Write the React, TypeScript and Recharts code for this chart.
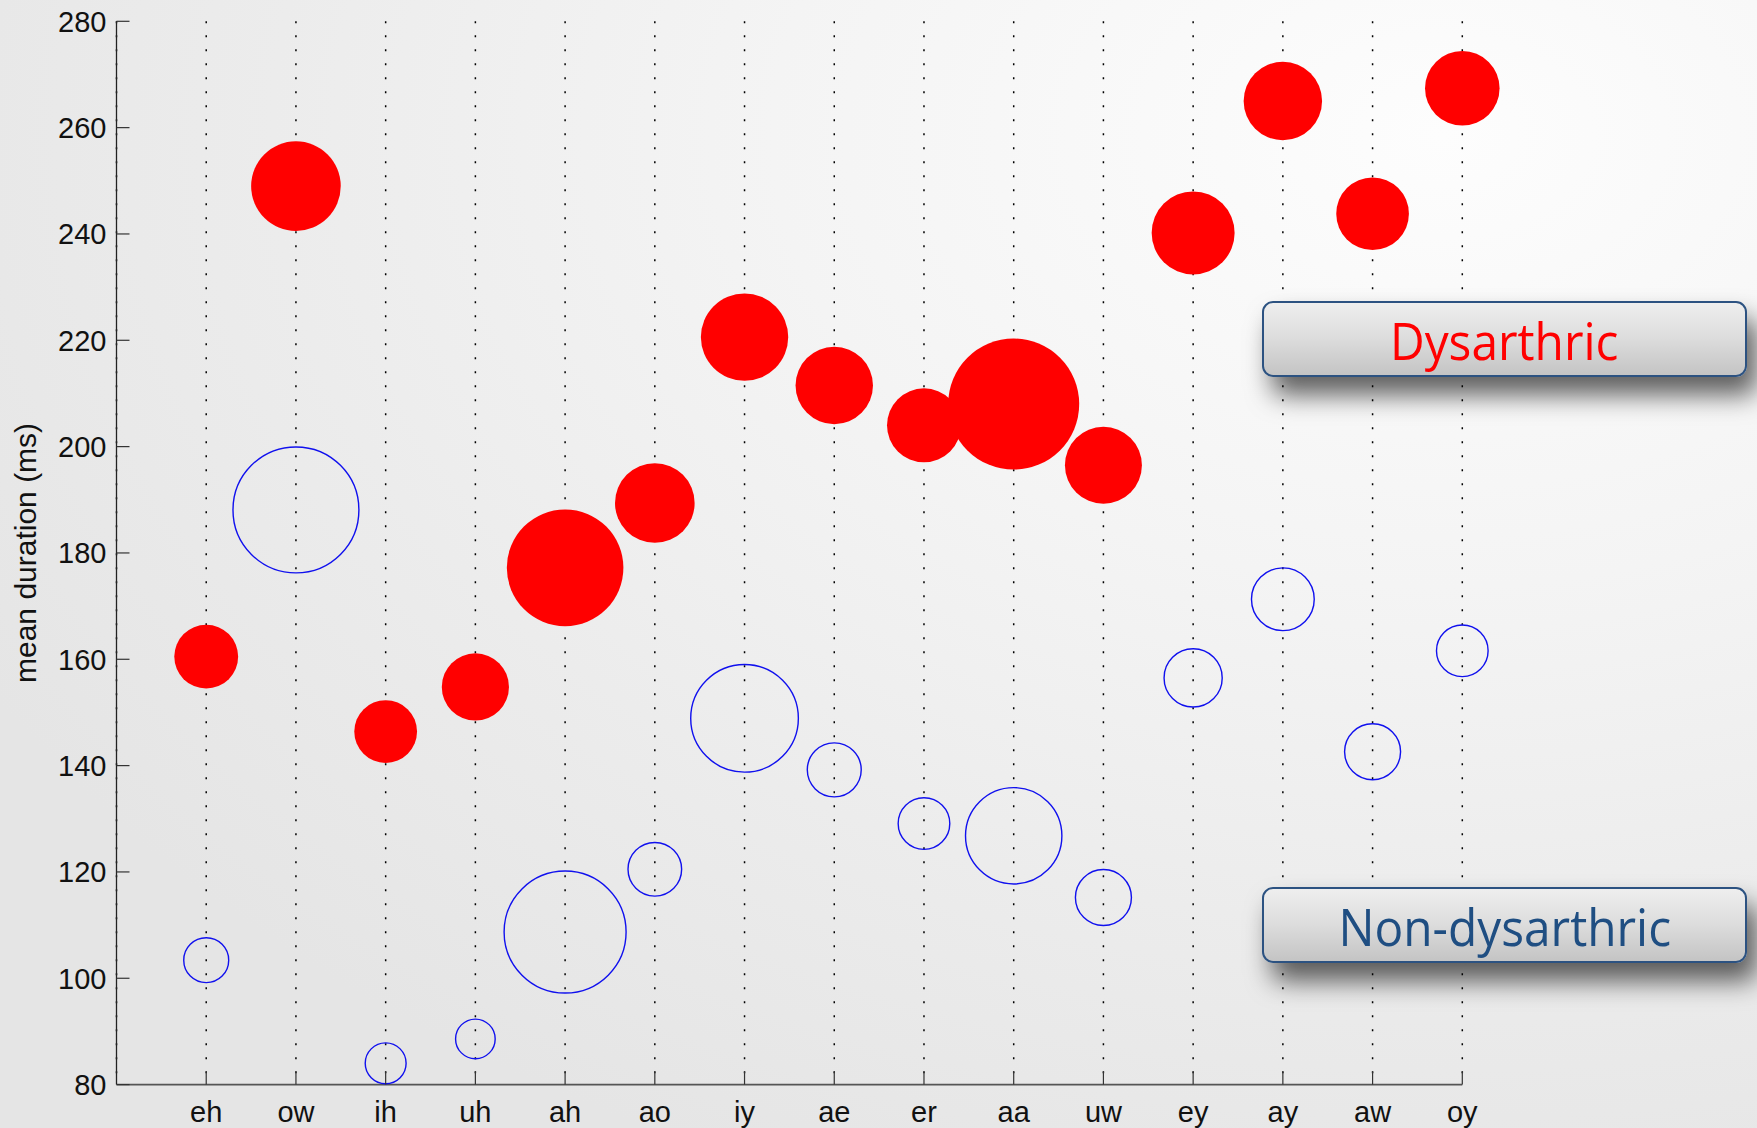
import React from 'react';
import {
  ScatterChart,
  Scatter,
  XAxis,
  YAxis,
  ZAxis,
  CartesianGrid,
} from 'recharts';

// vowels along the x axis
const vowels = ['eh', 'ow', 'ih', 'uh', 'ah', 'ao', 'iy', 'ae', 'er', 'aa', 'uw', 'ey', 'ay', 'aw', 'oy'];

// mean duration (ms) and relative bubble size
const dysarthricDuration = [160.5, 249, 146.4, 154.8, 177.2, 189.4, 220.6, 211.5, 204, 208, 196.5, 240.2, 265, 243.8, 267.4];
const dysarthricSize = [23.4, 46.1, 22.6, 25.9, 78, 36.4, 43.8, 34.4, 31.4, 98.5, 34, 39.5, 35.3, 30.3, 31.9];

const controlDuration = [103.4, 188.1, 84, 88.6, 108.7, 120.5, 148.9, 139.2, 129.1, 126.8, 115.2, 156.5, 171.3, 142.6, 161.6];
const controlSize = [11.6, 91, 9.6, 9, 85.4, 16.5, 66.5, 16.7, 15.3, 53.3, 18, 19.4, 22.6, 18, 15.3];

const yTicks = [80, 100, 120, 140, 160, 180, 200, 220, 240, 260, 280];
const xTicks = vowels.map((_, i) => i + 1);

const dysarthricData = vowels.map((v, i) => ({ x: i + 1, y: dysarthricDuration[i], z: dysarthricSize[i], vowel: v }));
const controlData = vowels.map((v, i) => ({ x: i + 1, y: controlDuration[i], z: controlSize[i], vowel: v }));

const FONT = '"Liberation Sans", Arial, Helvetica, sans-serif';

const XTick = (props: any) => {
  const { x, y, payload } = props;
  return (
    <g>
      <line x1={x} y1={y} x2={x} y2={y - 13} stroke="#333" strokeWidth={1.2} />
      <text x={x} y={y + 37} textAnchor="middle" fontSize={29} fontFamily={FONT} fill="#111">
        {vowels[payload.value - 1]}
      </text>
    </g>
  );
};

const YTick = (props: any) => {
  const { x, y, payload } = props;
  return (
    <g>
      <line x1={x} y1={y} x2={x + 13} y2={y} stroke="#333" strokeWidth={1.2} />
      <text x={x - 10} y={y} dy="0.36em" textAnchor="end" fontSize={29} fontFamily={FONT} fill="#111">
        {payload.value}
      </text>
    </g>
  );
};

const YTitle = (props: any) => {
  const { viewBox } = props;
  const cy = viewBox.y + viewBox.height / 2;
  const cx = 36;
  return (
    <text
      x={cx}
      y={cy}
      transform={`rotate(-90, ${cx}, ${cy})`}
      textAnchor="middle"
      fontSize={30}
      fontFamily={FONT}
      fill="#111"
    >
      mean duration (ms)
    </text>
  );
};

const FilledBubble = (props: any) => {
  const r = props.width ? props.width / 2 : Math.sqrt((props.size || 0) / Math.PI);
  return <circle cx={props.cx} cy={props.cy} r={r} fill="#ff0000" />;
};

const HollowBubble = (props: any) => {
  const r = props.width ? props.width / 2 : Math.sqrt((props.size || 0) / Math.PI);
  return <circle cx={props.cx} cy={props.cy} r={r} fill="none" stroke="#1010ee" strokeWidth={1.4} />;
};

const LegendBox = ({ top, text, color }: { top: number; text: string; color: string }) => (
  <div
    style={{
      position: 'absolute',
      left: 1262,
      top,
      width: 481,
      height: 72,
      border: '2px solid #2c5281',
      borderRadius: 11,
      background: 'linear-gradient(to bottom, #eeeeee 0%, #dcdcdc 50%, #c4c4c4 100%)',
      boxShadow: '10px 18px 26px rgba(0,0,0,0.62)',
      display: 'flex',
      alignItems: 'center',
      justifyContent: 'center',
      fontFamily: '"Open Sans", "Noto Sans", sans-serif',
      fontSize: 52,
      color,
      lineHeight: 1,
    }}
  >
    <span style={{ marginTop: 2, display: 'inline-block', transform: 'scaleX(0.92)' }}>{text}</span>
  </div>
);

const App: React.FC = () => {
  return (
    <div
      style={{
        position: 'absolute',
        left: 0,
        top: 0,
        width: 1757,
        height: 1128,
        overflow: 'hidden',
        background:
          'radial-gradient(ellipse 95% 100% at 82% 12%, #fdfdfd 0%, #f4f4f4 40%, #ececec 70%, #e5e5e5 100%)',
      }}
    >
      <ScatterChart
        width={1757}
        height={1128}
        margin={{ top: 21.3, right: 294.7, bottom: 0, left: 0 }}
      >
        <CartesianGrid
          horizontal={false}
          stroke="#000"
          strokeWidth={1.5}
          strokeDasharray="2 12"
        />
        <XAxis
          type="number"
          dataKey="x"
          domain={[0, 15]}
          ticks={xTicks}
          interval={0}
          height={43.4}
          tickSize={0}
          tickMargin={0}
          tickLine={false}
          tick={<XTick />}
          axisLine={{ stroke: '#555', strokeWidth: 1.8 }}
          allowDecimals={false}
        />
        <YAxis
          type="number"
          dataKey="y"
          domain={[80, 280]}
          ticks={yTicks}
          interval={0}
          width={116.5}
          tickSize={0}
          tickMargin={0}
          tickLine={false}
          tick={<YTick />}
          axisLine={{ stroke: '#222', strokeWidth: 1.3 }}
          label={<YTitle />}
        />
        <ZAxis type="number" dataKey="z" domain={[0, 100]} range={[0, 13685]} />
        <Scatter
          name="Non-dysarthric"
          data={controlData}
          shape={<HollowBubble />}
          isAnimationActive={false}
        />
        <Scatter
          name="Dysarthric"
          data={dysarthricData}
          shape={<FilledBubble />}
          isAnimationActive={false}
        />
      </ScatterChart>
      <LegendBox top={301} text="Dysarthric" color="#ff0000" />
      <LegendBox top={887} text="Non-dysarthric" color="#1f4e82" />
    </div>
  );
};

export default App;
